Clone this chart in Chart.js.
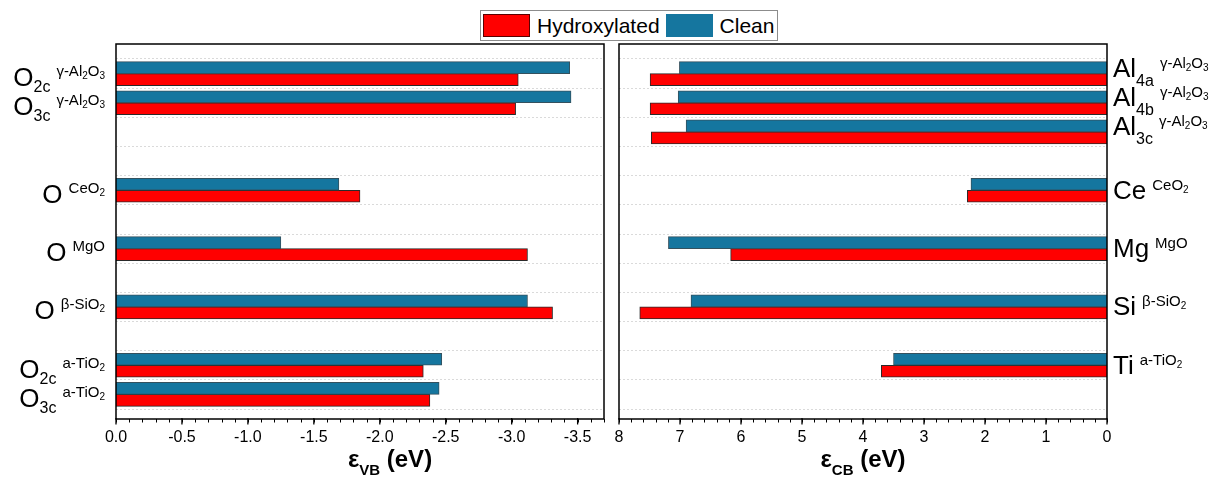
<!DOCTYPE html>
<html>
<head>
<meta charset="utf-8">
<title>Band edges</title>
<script src="https://cdn.jsdelivr.net/npm/chart.js@4.4.1/dist/chart.umd.min.js"></script>
<style>
    html, body { margin: 0; padding: 0; background: #fff; }
    #wrap { position: relative; width: 1212px; height: 478px; overflow: hidden; }
    #vb-chart { position: absolute; left: 0; top: 0; }
    #cb-chart { position: absolute; left: 612px; top: 0; }
    #legend {
        position: absolute; left: 480px; top: 10px; height: 31px;
        box-sizing: border-box; border: 1px solid #8c8c8c; background: #fff;
        display: flex; align-items: center; padding: 0 3px 0 2px;
        font: 21px 'Liberation Sans', Arial, sans-serif; color: #000;
    }
    .legend-item { display: flex; align-items: center; }
    .legend-item + .legend-item { margin-left: 6px; }
    .swatch { width: 47px; height: 23px; box-sizing: border-box; margin-right: 7px; }
</style>
</head>
<body>
<div id="wrap">
    <canvas id="vb-chart" width="612" height="478"></canvas>
    <canvas id="cb-chart" width="600" height="478"></canvas>
    <div id="legend"></div>
</div>
<script>
    // Valence band edges (eV), one slot per row, empty slots keep the spacing
    const vbCategories = ['O_{2c}^{γ-Al2O3}', 'O_{3c}^{γ-Al2O3}', '', '', 'O^{CeO2}', '', 'O^{MgO}', '', 'O^{β-SiO2}', '', 'O_{2c}^{a-TiO2}', 'O_{3c}^{a-TiO2}'];
    const vbHydroxylated = [-3.05, -3.03, null, null, -1.85, null, -3.12, null, -3.31, null, -2.33, -2.38];
    const vbClean = [-3.44, -3.45, null, null, -1.69, null, -1.25, null, -3.12, null, -2.47, -2.45];
    const vbTicks = [0, -0.5, -1, -1.5, -2, -2.5, -3, -3.5];

    // Conduction band edges (eV)
    const cbCategories = ['Al_{4a}^{γ-Al2O3}', 'Al_{4b}^{γ-Al2O3}', 'Al_{3c}^{γ-Al2O3}', '', 'Ce^{CeO2}', '', 'Mg^{MgO}', '', 'Si^{β-SiO2}', '', 'Ti^{a-TiO2}', ''];
    const cbHydroxylated = [7.49, 7.49, 7.47, null, 2.29, null, 6.17, null, 7.66, null, 3.70, null];
    const cbClean = [7.01, 7.03, 6.90, null, 2.23, null, 7.19, null, 6.82, null, 3.50, null];
    const cbTicks = [8, 7, 6, 5, 4, 3, 2, 1, 0];

    const FONT = "'Liberation Sans', Arial, sans-serif";
    const HYDROXYLATED_COLOR = '#ff0000';
    const CLEAN_COLOR = '#15769f';

    /**
     * "El_{sub}^{host}" -> parts
     */
    function parseLabel(text) {
        const m = /^([^_^]*)(?:_\{([^}]*)\})?(?:\^\{([^}]*)\})?$/.exec(text);
        return { main: m[1], sub: m[2] || '', sup: m[3] || '' };
    }

    // digits inside a formula are written as subscripts
    function formulaRuns(text) {
        return text.split(/(\d+)/).filter(Boolean).map(t => ({ text: t, digit: /^\d+$/.test(t) }));
    }

    function formulaWidth(ctx, text, size, digitSize) {
        let w = 0;
        formulaRuns(text).forEach(r => {
            ctx.font = `${r.digit ? digitSize : size}px ${FONT}`;
            w += ctx.measureText(r.text).width;
        });
        return w;
    }

    function drawFormula(ctx, text, x, y, size, digitSize, drop) {
        formulaRuns(text).forEach(r => {
            ctx.font = `${r.digit ? digitSize : size}px ${FONT}`;
            ctx.fillText(r.text, x, r.digit ? y + drop : y);
            x += ctx.measureText(r.text).width;
        });
    }

    /**
     * Site labels beside the panel (element, site subscript, host superscript)
     */
    const siteLabels = {
        id: 'siteLabels',
        afterDraw(chart, args, opts) {
            const { ctx, chartArea } = chart;
            const yScale = chart.scales.y;
            const s = opts.style;
            ctx.save();
            ctx.fillStyle = '#000';
            ctx.textAlign = 'left';
            ctx.textBaseline = 'alphabetic';
            chart.data.labels.forEach((label, i) => {
                if (!label) return;
                const { main, sub, sup } = parseLabel(label);
                const cy = yScale.getPixelForValue(i);

                ctx.font = `${s.main}px ${FONT}`;
                const wMain = ctx.measureText(main).width;
                ctx.font = `${s.sub}px ${FONT}`;
                const wSub = sub ? ctx.measureText(sub).width : 0;
                const wSup = formulaWidth(ctx, sup, s.sup, s.supDigit);
                const total = wMain + wSub + s.gap + wSup;

                let x = opts.align === 'right' ? chartArea.left - opts.offset - total : chartArea.right + opts.offset;
                const base = cy + (sub ? s.baseSub : s.base);

                ctx.font = `${s.main}px ${FONT}`;
                ctx.fillText(main, x, base);
                x += wMain;
                if (sub) {
                    ctx.font = `${s.sub}px ${FONT}`;
                    ctx.fillText(sub, x, base + s.subDrop);
                    x += wSub;
                }
                x += s.gap;
                drawFormula(ctx, sup, x, base - s.supRise, s.sup, s.supDigit, s.digitDrop);
            });
            ctx.restore();
        }
    };

    /**
     * Panel box, tick marks and axis title
     */
    const panelFrame = {
        id: 'panelFrame',
        afterDraw(chart, args, opts) {
            const { ctx, chartArea } = chart;
            const xScale = chart.scales.x;
            const top = chartArea.top - opts.padTop;
            const bottom = chartArea.bottom + opts.padBottom;
            ctx.save();
            ctx.strokeStyle = '#000';

            // minor + major ticks under the box
            const lo = Math.min(xScale.min, xScale.max);
            const hi = Math.max(xScale.min, xScale.max);
            ctx.lineWidth = 1;
            ctx.beginPath();
            for (let i = Math.ceil(lo / opts.minorStep - 1e-6); i * opts.minorStep <= hi + 1e-6; i++) {
                const px = Math.round(xScale.getPixelForValue(i * opts.minorStep)) + 0.5;
                ctx.moveTo(px, bottom);
                ctx.lineTo(px, bottom + 3.5);
            }
            ctx.stroke();
            ctx.lineWidth = 1.3;
            ctx.beginPath();
            xScale.ticks.forEach(t => {
                const px = xScale.getPixelForValue(t.value);
                ctx.moveTo(px, bottom - 1);
                ctx.lineTo(px, bottom + 5.5);
            });
            ctx.stroke();

            ctx.lineWidth = 1.5;
            ctx.strokeRect(chartArea.left, top, chartArea.right - chartArea.left, bottom - top);

            // axis title: ε_XX (eV)
            const t = opts.title;
            ctx.fillStyle = '#000';
            ctx.textBaseline = 'alphabetic';
            ctx.textAlign = 'left';
            ctx.font = `bold 24px ${FONT}`;
            const w1 = ctx.measureText(t.symbol).width;
            const w3 = ctx.measureText(t.unit).width;
            ctx.font = `bold 15px ${FONT}`;
            const w2 = ctx.measureText(t.sub).width;
            let x = (chartArea.left + chartArea.right) / 2 + opts.titleShift - (w1 + w2 + w3) / 2;
            const base = 467;
            ctx.font = `bold 24px ${FONT}`;
            ctx.fillText(t.symbol, x, base);
            x += w1;
            ctx.font = `bold 15px ${FONT}`;
            ctx.fillText(t.sub, x, base + 8);
            x += w2;
            ctx.font = `bold 24px ${FONT}`;
            ctx.fillText(t.unit, x, base);
            ctx.restore();
        }
    };

    function makeDatasets(clean, hydroxylated) {
        return [
            {
                label: 'Clean',
                data: clean,
                backgroundColor: CLEAN_COLOR,
                borderColor: '#34515e',
                borderWidth: 1,
                barThickness: 12
            },
            {
                label: 'Hydroxylated',
                data: hydroxylated,
                backgroundColor: HYDROXYLATED_COLOR,
                borderColor: '#2a2a2a',
                borderWidth: 1,
                barThickness: 12
            }
        ];
    }

    function makeOptions(cfg) {
        return {
            indexAxis: 'y',
            responsive: false,
            animation: false,
            devicePixelRatio: 1,
            layout: { padding: cfg.padding },
            plugins: {
                legend: { display: false },
                tooltip: { enabled: false },
                siteLabels: { align: cfg.labelAlign, offset: cfg.labelOffset, style: cfg.labelStyle },
                panelFrame: { padTop: 15, padBottom: 10, minorStep: cfg.minorStep, titleShift: cfg.titleShift, title: cfg.title }
            },
            scales: {
                x: {
                    type: 'linear',
                    min: cfg.min,
                    max: cfg.max,
                    reverse: true,
                    afterBuildTicks: (scale) => { scale.ticks = cfg.ticks.map(v => ({ value: v })); },
                    afterFit: (scale) => {
                        scale.height = 69;
                        // edge labels may hang outside, the box stays put
                        scale.paddingLeft = 0;
                        scale.paddingRight = 0;
                    },
                    ticks: {
                        autoSkip: false,
                        maxRotation: 0,
                        padding: 19,
                        color: '#000',
                        font: { family: FONT, size: 16 },
                        callback: cfg.tickFormat
                    },
                    grid: { display: false, drawTicks: false },
                    border: { display: false }
                },
                y: {
                    type: 'category',
                    position: cfg.yPosition,
                    afterFit: (scale) => { scale.width = cfg.yWidth; },
                    ticks: { display: false },
                    grid: { offset: true, drawTicks: false, color: '#dadada', lineWidth: 1 },
                    border: { display: false, dash: [2, 2] }
                }
            }
        };
    }

    const vbChart = new Chart(document.getElementById('vb-chart'), {
        type: 'bar',
        data: { labels: vbCategories, datasets: makeDatasets(vbClean, vbHydroxylated) },
        options: makeOptions({
            min: -3.7, max: 0, ticks: vbTicks, minorStep: 0.1,
            tickFormat: v => v.toFixed(1),
            padding: { top: 59, right: 8, left: 0, bottom: 0 },
            yPosition: 'left', yWidth: 116,
            labelAlign: 'right', labelOffset: 11,
            labelStyle: { main: 26, sub: 16, sup: 15, supDigit: 10, gap: 6, base: 12.5, baseSub: 12.5, subDrop: 6, supRise: 10, digitDrop: 3 },
            titleShift: 30,
            title: { symbol: 'ε', sub: 'VB', unit: ' (eV)' }
        }),
        plugins: [siteLabels, panelFrame]
    });

    const cbChart = new Chart(document.getElementById('cb-chart'), {
        type: 'bar',
        data: { labels: cbCategories, datasets: makeDatasets(cbClean, cbHydroxylated) },
        options: makeOptions({
            min: 0, max: 8, ticks: cbTicks, minorStep: 0.2,
            tickFormat: v => String(v),
            padding: { top: 59, right: 0, left: 7, bottom: 0 },
            yPosition: 'right', yWidth: 105,
            labelAlign: 'left', labelOffset: 6,
            labelStyle: { main: 26, sub: 16, sup: 15, supDigit: 10, gap: 6, base: 8.5, baseSub: 3, subDrop: 9.5, supRise: 9, digitDrop: 3 },
            titleShift: 0,
            title: { symbol: 'ε', sub: 'CB', unit: ' (eV)' }
        }),
        plugins: [siteLabels, panelFrame]
    });

    // Legend shared by both panels, Hydroxylated first
    const legendEl = document.getElementById('legend');
    [...vbChart.data.datasets].reverse().forEach(ds => {
        const item = document.createElement('div');
        item.className = 'legend-item';
        const swatch = document.createElement('span');
        swatch.className = 'swatch';
        swatch.style.background = ds.backgroundColor;
        if (ds.label === 'Hydroxylated') swatch.style.border = '1px solid #5a0000';
        const text = document.createElement('span');
        text.textContent = ds.label;
        item.appendChild(swatch);
        item.appendChild(text);
        legendEl.appendChild(item);
    });
</script>
</body>
</html>
